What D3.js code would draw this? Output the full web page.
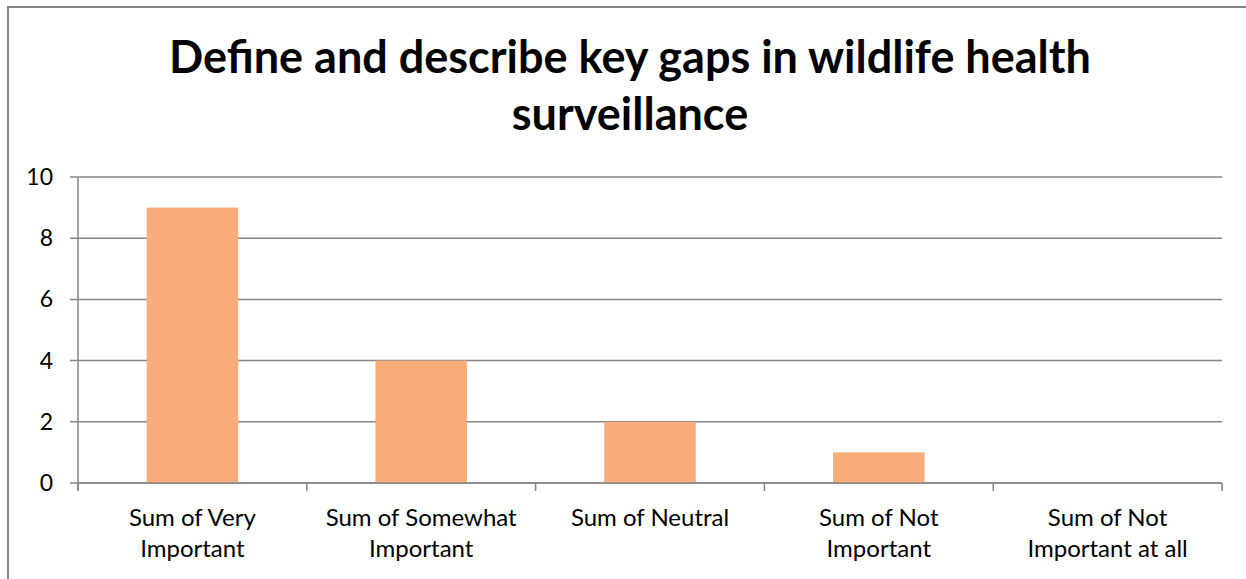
<!DOCTYPE html>
<html>
<head>
<meta charset="utf-8">
<script src="https://cdn.jsdelivr.net/npm/d3@7"></script>
<style>
  html, body { margin: 0; padding: 0; background: #fff; }
  svg { display: block; }
  text { font-family: Lato, "Open Sans", sans-serif; fill: #000; }
</style>
</head>
<body>
<svg id="chart" width="1246" height="579"></svg>
<script>
// Survey responses: how important is defining and describing key gaps
const categories = [
  ["Sum of Very", "Important"],
  ["Sum of Somewhat", "Important"],
  ["Sum of Neutral"],
  ["Sum of Not", "Important"],
  ["Sum of Not", "Important at all"]
];
const values = [9, 4, 2, 1, 0];
const yTicks = [0, 2, 4, 6, 8, 10];
const titleLines = ["Define and describe key gaps in wildlife health", "surveillance"];

const W = 1246, H = 579;
const svg = d3.select("#chart");
const plot = { left: 78, right: 1222, top: 177, bottom: 483 };

// chart frame
svg.append("rect")
  .attr("x", 8).attr("y", 7)
  .attr("width", W + 10).attr("height", H + 10)
  .attr("fill", "#fff")
  .attr("stroke", "#868686").attr("stroke-width", 2);

// title
svg.append("text")
  .attr("text-anchor", "middle")
  .attr("font-weight", "bold")
  .attr("font-size", 45)
  .selectAll("tspan")
  .data(titleLines)
  .join("tspan")
  .attr("x", 630)
  .attr("y", (d, i) => 73 + i * 56.5)
  .text(d => d);

const idx = d3.range(categories.length);
const x = d3.scaleBand().domain(idx).range([plot.left, plot.right]).padding(0);
const y = d3.scaleLinear().domain([0, 10]).range([plot.bottom, plot.top]);

// gridlines
svg.append("g")
  .selectAll("line")
  .data(yTicks)
  .join("line")
  .attr("x1", plot.left - 8).attr("x2", plot.right)
  .attr("y1", d => y(d)).attr("y2", d => y(d))
  .attr("stroke", "#868686").attr("stroke-width", 1.5);

// y axis line
svg.append("line")
  .attr("x1", plot.left).attr("x2", plot.left)
  .attr("y1", plot.top).attr("y2", plot.bottom + 8)
  .attr("stroke", "#868686").attr("stroke-width", 1.5);

// y tick labels
svg.append("g")
  .selectAll("text")
  .data(yTicks)
  .join("text")
  .attr("x", 53)
  .attr("y", d => y(d))
  .attr("dy", "0.35em")
  .attr("text-anchor", "end")
  .attr("font-size", 23)
  .text(d => d);

// bars
const bw = x.bandwidth() * 0.4;
svg.append("g")
  .selectAll("rect")
  .data(idx)
  .join("rect")
  .attr("x", i => x(i) + (x.bandwidth() - bw) / 2)
  .attr("width", bw)
  .attr("y", i => y(values[i]))
  .attr("height", i => y(0) - y(values[i]))
  .attr("fill", "#F7AC7A");

// x axis line and category boundary ticks
svg.append("line")
  .attr("x1", plot.left).attr("x2", plot.right)
  .attr("y1", plot.bottom).attr("y2", plot.bottom)
  .attr("stroke", "#868686").attr("stroke-width", 1.5);
svg.append("g")
  .selectAll("line")
  .data(d3.range(categories.length + 1))
  .join("line")
  .attr("x1", i => plot.left + i * x.step())
  .attr("x2", i => plot.left + i * x.step())
  .attr("y1", plot.bottom).attr("y2", plot.bottom + 8)
  .attr("stroke", "#868686").attr("stroke-width", 1.5);

// category labels
svg.append("g")
  .selectAll("text")
  .data(idx)
  .join("text")
  .attr("text-anchor", "middle")
  .attr("font-size", 24)
  .selectAll("tspan")
  .data(i => categories[i].map(t => ({ t, i })))
  .join("tspan")
  .attr("x", d => x(d.i) + x.bandwidth() / 2)
  .attr("y", (d, k) => 526 + k * 30.5)
  .text(d => d.t);
</script>
</body>
</html>
